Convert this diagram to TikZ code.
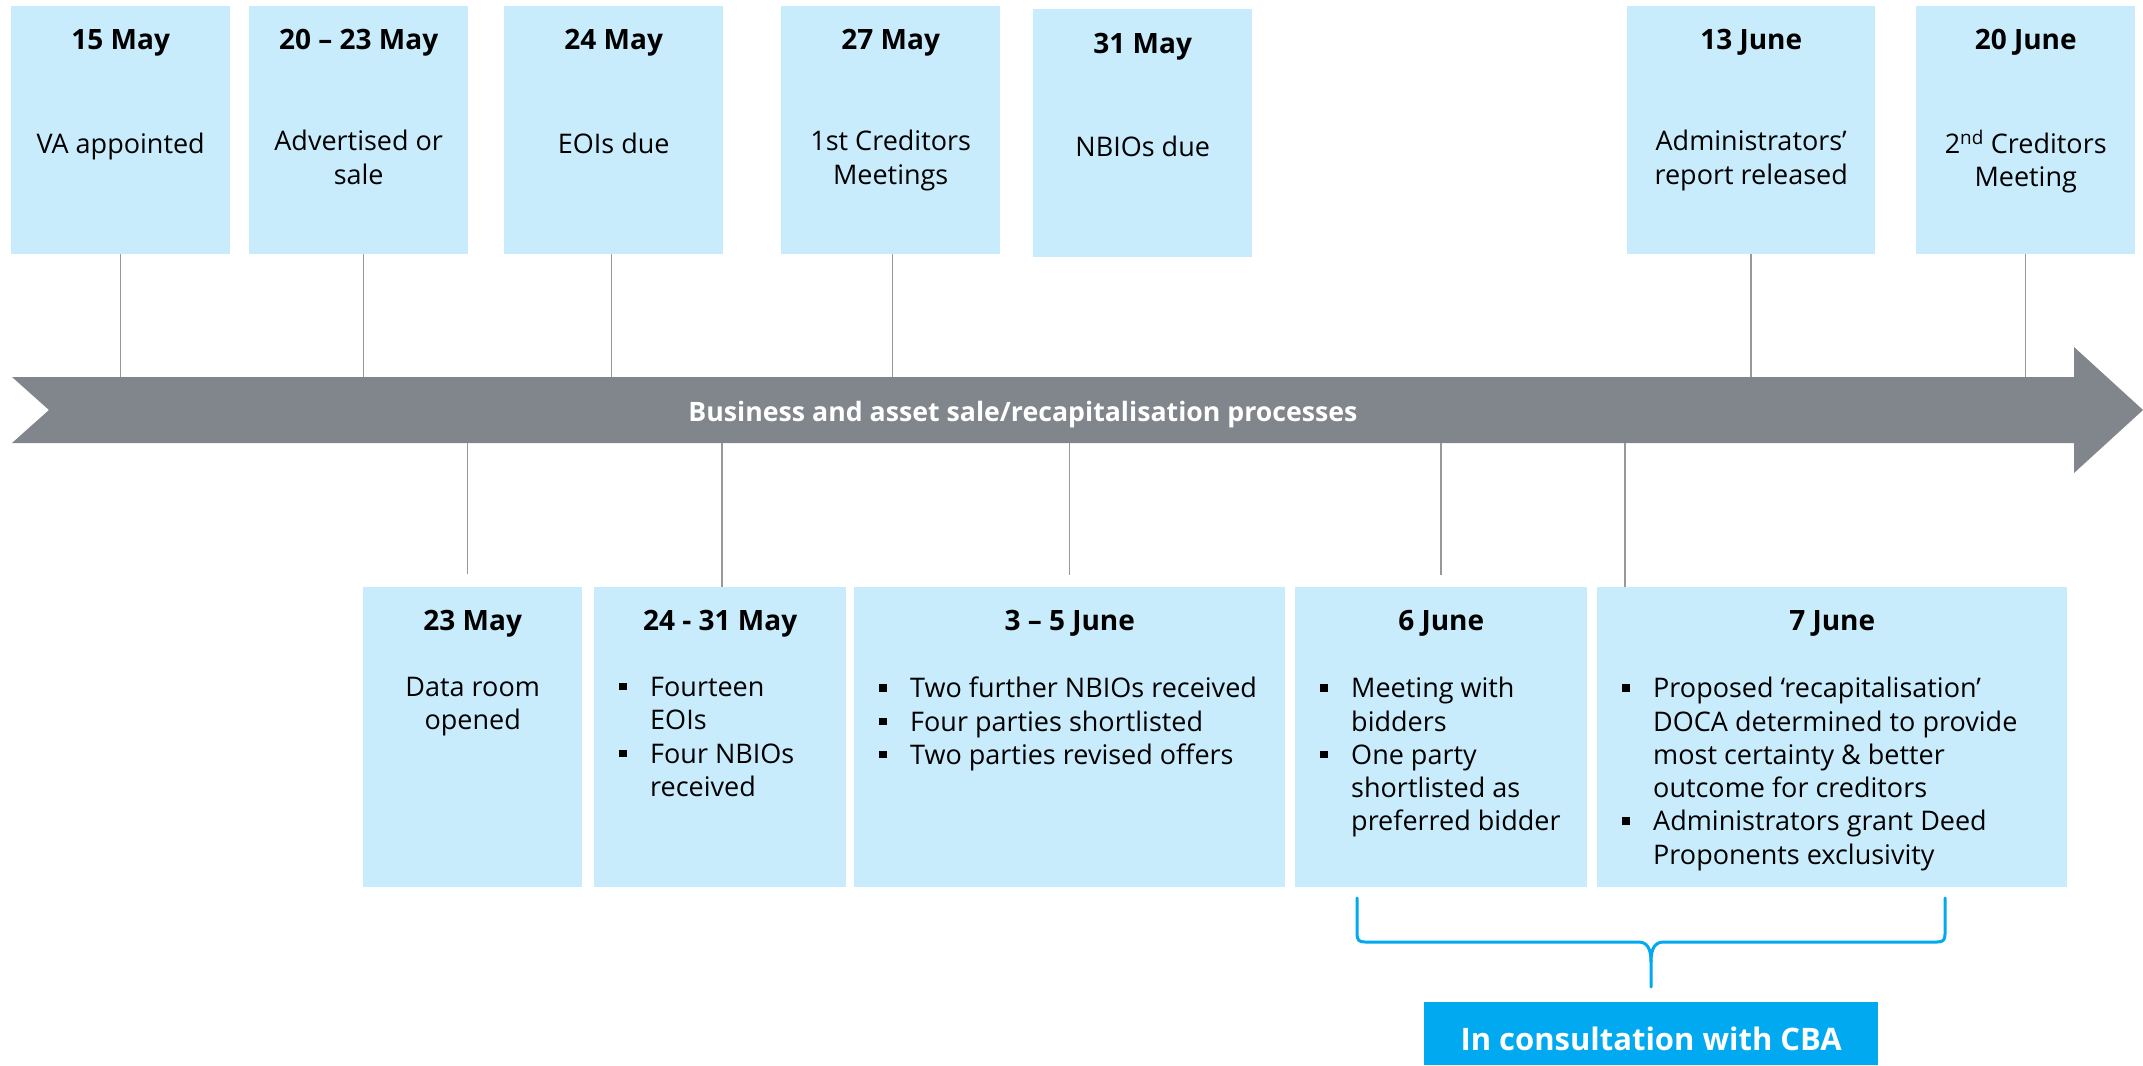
\documentclass[tikz,border=0pt]{standalone}
\usepackage{fontspec}
\setmainfont{Open Sans}

\definecolor{boxblue}{RGB}{201,236,252}
\definecolor{arrowgrey}{RGB}{128,134,140}
\definecolor{tickgrey}{RGB}{150,153,156}
\definecolor{cbablue}{RGB}{0,169,240}

\newcommand\bul{\makebox[31pt][l]{\rule[6pt]{7.5pt}{7.5pt}}}
\newcommand\ind{\hspace*{31pt}}

\tikzset{
	datebox/.style={fill=boxblue, inner sep=0, anchor=north west, minimum height=248},
	head/.style={font=\fontsize{28}{34}\selectfont\bfseries, inner sep=0, anchor=base},
	body/.style={font=\fontsize{27}{33.3}\selectfont, inner sep=0, align=center, anchor=north, execute at begin node=\strut},
	bullets/.style={body, align=left, anchor=north west},
	tick/.style={draw=tickgrey, line width=1.5},
}

\begin{document}
\begin{tikzpicture}[x=1pt, y=-1pt]
			%%%%% START %%%%%
			\useasboundingbox (0,0) rectangle (2143,1065);
			
			\coordinate (arrtop) at (0,377);
			\coordinate (arrbot) at (0,443);
			
			% top row
			\node[datebox, minimum width=219] (d15may) at (11,6) {};
			\node[head] (h15may) at ([yshift=-43]d15may.north) {15 May};
			\node[body] (t15may) at ([yshift=-124]d15may.north) {VA appointed};
			
			\node[datebox, minimum width=219] (d20may) at (249,6) {};
			\node[head] (h20may) at ([yshift=-43]d20may.north) {20 -- 23 May};
			\node[body] (t20may) at ([yshift=-124]d20may.north) {Advertised or\\sale};
			
			\node[datebox, minimum width=219] (d24may) at (504,6) {};
			\node[head] (h24may) at ([yshift=-43]d24may.north) {24 May};
			\node[body] (t24may) at ([yshift=-124]d24may.north) {EOIs due};
			
			\node[datebox, minimum width=219] (d27may) at (781,6) {};
			\node[head] (h27may) at ([yshift=-43]d27may.north) {27 May};
			\node[body] (t27may) at ([yshift=-124]d27may.north) {1st Creditors\\Meetings};
			
			\node[datebox, minimum width=219] (d31may) at (1033,9) {};
			\node[head] (h31may) at ([yshift=-44]d31may.north) {31 May};
			\node[body] (t31may) at ([yshift=-124]d31may.north) {NBIOs due};
			
			\node[datebox, minimum width=248] (d13jun) at (1627,6) {};
			\node[head] (h13jun) at ([yshift=-43]d13jun.north) {13 June};
			\node[body] (t13jun) at ([yshift=-124]d13jun.north) {Administrators’\\report released};
			
			\node[datebox, minimum width=219] (d20jun) at (1916,6) {};
			\node[head] (h20jun) at ([yshift=-43]d20jun.north) {20 June};
			\node[body] (t20jun) at ([yshift=-124]d20jun.north) {2\textsuperscript{nd} Creditors\\Meeting};
			
			% ticks to the arrow
			\draw[tick] (d15may.south) -- (d15may.south |- arrtop);
			\draw[tick] ([xshift=5]d20may.south) -- ([xshift=5]d20may.south |- arrtop);
			\draw[tick] ([xshift=-2]d24may.south) -- ([xshift=-2]d24may.south |- arrtop);
			\draw[tick] ([xshift=2]d27may.south) -- ([xshift=2]d27may.south |- arrtop);
			\draw[tick] (d13jun.south) -- (d13jun.south |- arrtop);
			\draw[tick] (d20jun.south) -- (d20jun.south |- arrtop);
			
			% process arrow
			\fill[arrowgrey] (12,377) -- (2074,377) -- (2074,347) -- (2143,410) -- (2074,473) -- (2074,443) -- (12,443) -- (49,410) -- cycle;
			\node[head, font=\fontsize{26.7}{32}\selectfont\bfseries, text=white] (procs) at (1023,421) {Business and asset sale/recapitalisation processes};
			
			% bottom row
			\node[datebox, minimum width=219, minimum height=300] (d23may) at (363,587) {};
			\node[head] (h23may) at ([yshift=-43]d23may.north) {23 May};
			\node[body] (t23may) at ([yshift=-90]d23may.north) {Data room\\opened};
			
			\node[datebox, minimum width=252, minimum height=300] (d2431may) at (594,587) {};
			\node[head] (h2431may) at ([yshift=-43]d2431may.north) {24 - 31 May};
			\node[bullets] (t2431may) at ([xshift=25, yshift=-90]d2431may.north west) {\bul Fourteen\\\ind EOIs\\\bul Four NBIOs\\\ind received};
			
			\node[datebox, minimum width=431, minimum height=300] (d0305jun) at (854,587) {};
			\node[head] (h0305jun) at ([yshift=-43]d0305jun.north) {3 -- 5 June};
			\node[bullets] (t0305jun) at ([xshift=25, yshift=-90]d0305jun.north west) {\bul Two further NBIOs received\\\bul Four parties shortlisted\\\bul Two parties revised offers};
			
			\node[datebox, minimum width=292, minimum height=300] (d06jun) at (1295,587) {};
			\node[head] (h06jun) at ([yshift=-43]d06jun.north) {6 June};
			\node[bullets] (t06jun) at ([xshift=25, yshift=-90]d06jun.north west) {\bul Meeting with\\\ind bidders\\\bul One party\\\ind shortlisted as\\\ind preferred bidder};
			
			\node[datebox, minimum width=470, minimum height=300] (d07jun) at (1597,587) {};
			\node[head] (h07jun) at ([yshift=-43]d07jun.north) {7 June};
			\node[bullets] (t07jun) at ([xshift=25, yshift=-90]d07jun.north west) {\bul Proposed ‘recapitalisation’\\\ind DOCA determined to provide\\\ind most certainty \& better\\\ind outcome for creditors\\\bul Administrators grant Deed\\\ind Proponents exclusivity};
			
			% ticks from the arrow
			\draw[tick] ([xshift=-5]d23may.north |- arrbot) -- ([xshift=-5, yshift=13]d23may.north);
			\draw[tick] ([xshift=2]d2431may.north |- arrbot) -- ([xshift=2]d2431may.north);
			\draw[tick] (d0305jun.north |- arrbot) -- ([yshift=12]d0305jun.north);
			\draw[tick] (d06jun.north |- arrbot) -- ([yshift=12]d06jun.north);
			\draw[tick] ([xshift=28]d07jun.north west |- arrbot) -- ([xshift=28]d07jun.north west);
			
			% brace and CBA
			\draw[cbablue, line width=3, line cap=round] (1357,898) -- (1357,934) .. controls (1357,940) and (1359,942) .. (1365,942) -- (1638,942) .. controls (1647,942) and (1651,948) .. (1651,962) -- (1651,987);
			\draw[cbablue, line width=3, line cap=round] (1945,898) -- (1945,934) .. controls (1945,940) and (1943,942) .. (1937,942) -- (1664,942) .. controls (1655,942) and (1651,948) .. (1651,962);
			
			\node[fill=cbablue, inner sep=0, anchor=north west, minimum width=454, minimum height=63] (cba) at (1424,1002) {};
			\node[head, font=\fontsize{31}{37}\selectfont\bfseries, text=white] (cbalbl) at ([yshift=-48]cba.north) {In consultation with CBA};
			
			%%%%% END %%%%%
\end{tikzpicture}
\end{document}
